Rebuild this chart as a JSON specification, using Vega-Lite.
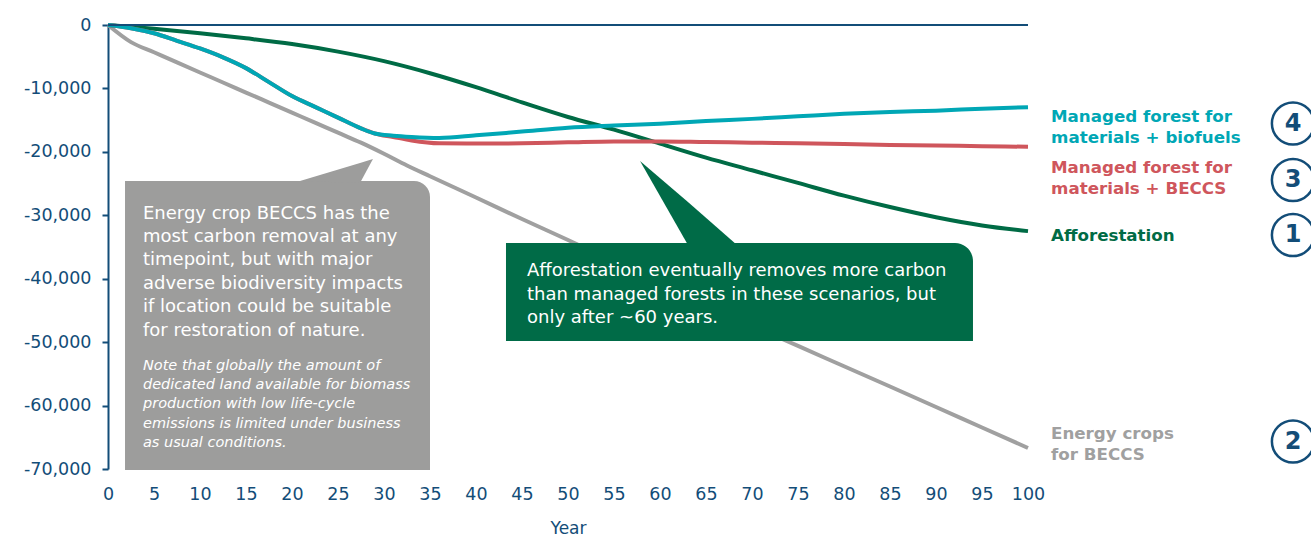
{
  "$schema": "https://vega.github.io/schema/vega-lite/v6.json",
  "width": 920,
  "height": 444,
  "autosize": {"type": "none"},
  "padding": {"left": 108, "top": 25, "right": 283, "bottom": 70},
  "background": "white",
  "config": {"font": "DejaVu Sans", "view": {"stroke": null}},
  "datasets": {
    "series": [
      {"series": "Energy crops for BECCS", "year": 0, "value": 0},
      {"series": "Energy crops for BECCS", "year": 2.5, "value": -2700},
      {"series": "Energy crops for BECCS", "year": 5, "value": -4300},
      {"series": "Energy crops for BECCS", "year": 7.5, "value": -5900},
      {"series": "Energy crops for BECCS", "year": 10, "value": -7490},
      {"series": "Energy crops for BECCS", "year": 12.5, "value": -9060},
      {"series": "Energy crops for BECCS", "year": 15, "value": -10650},
      {"series": "Energy crops for BECCS", "year": 17.5, "value": -12230},
      {"series": "Energy crops for BECCS", "year": 20, "value": -13810},
      {"series": "Energy crops for BECCS", "year": 22.5, "value": -15390},
      {"series": "Energy crops for BECCS", "year": 25, "value": -16980},
      {"series": "Energy crops for BECCS", "year": 27.5, "value": -18550},
      {"series": "Energy crops for BECCS", "year": 30, "value": -20300},
      {"series": "Energy crops for BECCS", "year": 32.5, "value": -22150},
      {"series": "Energy crops for BECCS", "year": 35, "value": -23850},
      {"series": "Energy crops for BECCS", "year": 40, "value": -27200},
      {"series": "Energy crops for BECCS", "year": 45, "value": -30590},
      {"series": "Energy crops for BECCS", "year": 50, "value": -33900},
      {"series": "Energy crops for BECCS", "year": 55, "value": -37290},
      {"series": "Energy crops for BECCS", "year": 60, "value": -40680},
      {"series": "Energy crops for BECCS", "year": 65, "value": -44070},
      {"series": "Energy crops for BECCS", "year": 70, "value": -47400},
      {"series": "Energy crops for BECCS", "year": 75, "value": -50600},
      {"series": "Energy crops for BECCS", "year": 80, "value": -53800},
      {"series": "Energy crops for BECCS", "year": 85, "value": -57000},
      {"series": "Energy crops for BECCS", "year": 90, "value": -60220},
      {"series": "Energy crops for BECCS", "year": 95, "value": -63460},
      {"series": "Energy crops for BECCS", "year": 100, "value": -66690},

      {"series": "Afforestation", "year": 0, "value": 0},
      {"series": "Afforestation", "year": 5, "value": -600},
      {"series": "Afforestation", "year": 10, "value": -1300},
      {"series": "Afforestation", "year": 15, "value": -2100},
      {"series": "Afforestation", "year": 20, "value": -3000},
      {"series": "Afforestation", "year": 25, "value": -4200},
      {"series": "Afforestation", "year": 30, "value": -5700},
      {"series": "Afforestation", "year": 35, "value": -7600},
      {"series": "Afforestation", "year": 40, "value": -9800},
      {"series": "Afforestation", "year": 45, "value": -12200},
      {"series": "Afforestation", "year": 50, "value": -14500},
      {"series": "Afforestation", "year": 55, "value": -16500},
      {"series": "Afforestation", "year": 60, "value": -18700},
      {"series": "Afforestation", "year": 65, "value": -20900},
      {"series": "Afforestation", "year": 70, "value": -22900},
      {"series": "Afforestation", "year": 75, "value": -24900},
      {"series": "Afforestation", "year": 80, "value": -26900},
      {"series": "Afforestation", "year": 85, "value": -28700},
      {"series": "Afforestation", "year": 90, "value": -30300},
      {"series": "Afforestation", "year": 95, "value": -31600},
      {"series": "Afforestation", "year": 100, "value": -32500},

      {"series": "Managed forest for materials + BECCS", "year": 0, "value": 0},
      {"series": "Managed forest for materials + BECCS", "year": 2.5, "value": -500},
      {"series": "Managed forest for materials + BECCS", "year": 5, "value": -1300},
      {"series": "Managed forest for materials + BECCS", "year": 7.5, "value": -2500},
      {"series": "Managed forest for materials + BECCS", "year": 10, "value": -3700},
      {"series": "Managed forest for materials + BECCS", "year": 12.5, "value": -5100},
      {"series": "Managed forest for materials + BECCS", "year": 15, "value": -6800},
      {"series": "Managed forest for materials + BECCS", "year": 17.5, "value": -9000},
      {"series": "Managed forest for materials + BECCS", "year": 20, "value": -11200},
      {"series": "Managed forest for materials + BECCS", "year": 22.5, "value": -12900},
      {"series": "Managed forest for materials + BECCS", "year": 25, "value": -14600},
      {"series": "Managed forest for materials + BECCS", "year": 27.5, "value": -16300},
      {"series": "Managed forest for materials + BECCS", "year": 29, "value": -17100},
      {"series": "Managed forest for materials + BECCS", "year": 31, "value": -17650},
      {"series": "Managed forest for materials + BECCS", "year": 33, "value": -18200},
      {"series": "Managed forest for materials + BECCS", "year": 36, "value": -18650},
      {"series": "Managed forest for materials + BECCS", "year": 40, "value": -18700},
      {"series": "Managed forest for materials + BECCS", "year": 45, "value": -18650},
      {"series": "Managed forest for materials + BECCS", "year": 50, "value": -18500},
      {"series": "Managed forest for materials + BECCS", "year": 55, "value": -18350},
      {"series": "Managed forest for materials + BECCS", "year": 60, "value": -18350},
      {"series": "Managed forest for materials + BECCS", "year": 65, "value": -18450},
      {"series": "Managed forest for materials + BECCS", "year": 70, "value": -18550},
      {"series": "Managed forest for materials + BECCS", "year": 75, "value": -18650},
      {"series": "Managed forest for materials + BECCS", "year": 80, "value": -18750},
      {"series": "Managed forest for materials + BECCS", "year": 85, "value": -18900},
      {"series": "Managed forest for materials + BECCS", "year": 90, "value": -19000},
      {"series": "Managed forest for materials + BECCS", "year": 95, "value": -19100},
      {"series": "Managed forest for materials + BECCS", "year": 100, "value": -19200},

      {"series": "Managed forest for materials + biofuels", "year": 0, "value": 0},
      {"series": "Managed forest for materials + biofuels", "year": 2.5, "value": -500},
      {"series": "Managed forest for materials + biofuels", "year": 5, "value": -1300},
      {"series": "Managed forest for materials + biofuels", "year": 7.5, "value": -2500},
      {"series": "Managed forest for materials + biofuels", "year": 10, "value": -3700},
      {"series": "Managed forest for materials + biofuels", "year": 12.5, "value": -5100},
      {"series": "Managed forest for materials + biofuels", "year": 15, "value": -6800},
      {"series": "Managed forest for materials + biofuels", "year": 17.5, "value": -9000},
      {"series": "Managed forest for materials + biofuels", "year": 20, "value": -11200},
      {"series": "Managed forest for materials + biofuels", "year": 22.5, "value": -12900},
      {"series": "Managed forest for materials + biofuels", "year": 25, "value": -14600},
      {"series": "Managed forest for materials + biofuels", "year": 27.5, "value": -16300},
      {"series": "Managed forest for materials + biofuels", "year": 29, "value": -17100},
      {"series": "Managed forest for materials + biofuels", "year": 31, "value": -17450},
      {"series": "Managed forest for materials + biofuels", "year": 33, "value": -17650},
      {"series": "Managed forest for materials + biofuels", "year": 36, "value": -17800},
      {"series": "Managed forest for materials + biofuels", "year": 40, "value": -17400},
      {"series": "Managed forest for materials + biofuels", "year": 45, "value": -16800},
      {"series": "Managed forest for materials + biofuels", "year": 50, "value": -16200},
      {"series": "Managed forest for materials + biofuels", "year": 55, "value": -15850},
      {"series": "Managed forest for materials + biofuels", "year": 60, "value": -15550},
      {"series": "Managed forest for materials + biofuels", "year": 65, "value": -15150},
      {"series": "Managed forest for materials + biofuels", "year": 70, "value": -14800},
      {"series": "Managed forest for materials + biofuels", "year": 75, "value": -14400},
      {"series": "Managed forest for materials + biofuels", "year": 80, "value": -14000},
      {"series": "Managed forest for materials + biofuels", "year": 85, "value": -13700},
      {"series": "Managed forest for materials + biofuels", "year": 90, "value": -13500},
      {"series": "Managed forest for materials + biofuels", "year": 95, "value": -13200},
      {"series": "Managed forest for materials + biofuels", "year": 100, "value": -12950}
    ],
    "boxes": [
      {"box": "gray", "x1": 1.85, "x2": 35.0, "y1": -24595, "y2": -70158},
      {"box": "green", "x1": 43.26, "x2": 94.02, "y1": -34370, "y2": -49820}
    ],
    "pointers": [
      {"box": "gray", "year": 20.87, "top": -24595, "bottom": -24595},
      {"box": "gray", "year": 27.39, "top": -21742, "bottom": -24910},
      {"box": "gray", "year": 28.8, "top": -21126, "bottom": -21126},
      {"box": "green", "year": 57.83, "top": -21442, "bottom": -21442},
      {"box": "green", "year": 63.04, "top": -27922, "bottom": -34686},
      {"box": "green", "year": 68.37, "top": -34686, "bottom": -34686}
    ],
    "notes": [
      {"note": "main", "year": 3.8, "value": -28300, "text": "Energy crop BECCS has the\nmost carbon removal at any\ntimepoint, but with major\nadverse biodiversity impacts\nif location could be suitable\nfor restoration of nature."},
      {"note": "small", "year": 3.8, "value": -52630, "text": "Note that globally the amount of\ndedicated land available for biomass\nproduction with low life-cycle\nemissions is limited under business\nas usual conditions."},
      {"note": "green", "year": 45.54, "value": -37440, "text": "Afforestation eventually removes more carbon\nthan managed forests in these scenarios, but\nonly after ~60 years."}
    ],
    "labels": [
      {"series": "Managed forest for materials + biofuels", "year": 100, "value": -13165, "text": "Managed forest for\nmaterials + biofuels"},
      {"series": "Managed forest for materials + BECCS", "year": 100, "value": -21253, "text": "Managed forest for\nmaterials + BECCS"},
      {"series": "Afforestation", "year": 100, "value": -31926, "text": "Afforestation"},
      {"series": "Energy crops for BECCS", "year": 100, "value": -63143, "text": "Energy crops\nfor BECCS"}
    ],
    "circles": [
      {"num": "4", "year": 100, "value": -15530},
      {"num": "3", "year": 100, "value": -24437},
      {"num": "1", "year": 100, "value": -33109},
      {"num": "2", "year": 100, "value": -65665}
    ]
  },
  "layer": [
    {
      "data": {"name": "series"},
      "mark": {"type": "line", "strokeWidth": 4, "clip": false, "interpolate": "monotone"},
      "encoding": {
        "x": {
          "field": "year", "type": "quantitative",
          "scale": {"domain": [0, 100], "nice": false},
          "axis": {
            "values": [0,5,10,15,20,25,30,35,40,45,50,55,60,65,70,75,80,85,90,95,100],
            "domain": false, "ticks": false, "grid": false,
            "labelFontSize": 17.5, "labelColor": "#134d78", "labelPadding": 16,
            "labelFlush": false,
            "title": "Year", "titleFontSize": 17, "titleFontWeight": "normal",
            "titleColor": "#134d78", "titlePadding": 18
          }
        },
        "y": {
          "field": "value", "type": "quantitative",
          "scale": {"domain": [-70000, 0], "nice": false},
          "axis": {
            "values": [-70000,-60000,-50000,-40000,-30000,-20000,-10000,0],
            "labelExpr": "datum.value === 0 ? '0' : '-' + format(-datum.value, ',')",
            "grid": false, "title": null,
            "domainColor": "#134d78", "domainWidth": 2,
            "tickColor": "#134d78", "tickWidth": 2, "tickSize": 6,
            "labelFontSize": 17.5, "labelColor": "#134d78", "labelPadding": 11
          }
        },
        "color": {
          "field": "series", "type": "nominal", "legend": null,
          "scale": {
            "domain": ["Energy crops for BECCS", "Afforestation", "Managed forest for materials + BECCS", "Managed forest for materials + biofuels"],
            "range": ["#a0a0a0", "#006b45", "#cf565c", "#00a7b5"]
          }
        }
      }
    },
    {
      "data": {"values": [{"year": 0, "y": 0, "end": 100}]},
      "mark": {"type": "rule", "color": "#134d78", "strokeWidth": 2},
      "encoding": {
        "x": {"field": "year", "type": "quantitative"},
        "x2": {"field": "end"},
        "y": {"field": "y", "type": "quantitative"}
      }
    },
    {
      "data": {"name": "boxes"},
      "transform": [{"filter": "datum.box === 'gray'"}],
      "mark": {"type": "rect", "color": "#9d9d9c", "cornerRadiusTopRight": 16, "clip": false},
      "encoding": {
        "x": {"field": "x1", "type": "quantitative"},
        "x2": {"field": "x2"},
        "y": {"field": "y1", "type": "quantitative"},
        "y2": {"field": "y2"}
      }
    },
    {
      "data": {"name": "pointers"},
      "transform": [{"filter": "datum.box === 'gray'"}],
      "mark": {"type": "area", "color": "#9d9d9c"},
      "encoding": {
        "x": {"field": "year", "type": "quantitative"},
        "y": {"field": "top", "type": "quantitative"},
        "y2": {"field": "bottom"}
      }
    },
    {
      "data": {"name": "boxes"},
      "transform": [{"filter": "datum.box === 'green'"}],
      "mark": {"type": "rect", "color": "#006b47", "cornerRadiusTopRight": 18},
      "encoding": {
        "x": {"field": "x1", "type": "quantitative"},
        "x2": {"field": "x2"},
        "y": {"field": "y1", "type": "quantitative"},
        "y2": {"field": "y2"}
      }
    },
    {
      "data": {"name": "pointers"},
      "transform": [{"filter": "datum.box === 'green'"}],
      "mark": {"type": "area", "color": "#006b47"},
      "encoding": {
        "x": {"field": "year", "type": "quantitative"},
        "y": {"field": "top", "type": "quantitative"},
        "y2": {"field": "bottom"}
      }
    },
    {
      "data": {"name": "notes"},
      "transform": [{"filter": "datum.note !== 'small'"}],
      "mark": {"type": "text", "align": "left", "baseline": "top", "fontSize": 18, "lineHeight": 23.4, "lineBreak": "\n", "color": "white"},
      "encoding": {
        "x": {"field": "year", "type": "quantitative"},
        "y": {"field": "value", "type": "quantitative"},
        "text": {"field": "text"}
      }
    },
    {
      "data": {"name": "notes"},
      "transform": [{"filter": "datum.note === 'small'"}],
      "mark": {"type": "text", "align": "left", "baseline": "top", "fontSize": 14.5, "fontStyle": "italic", "lineHeight": 19.3, "lineBreak": "\n", "color": "white"},
      "encoding": {
        "x": {"field": "year", "type": "quantitative"},
        "y": {"field": "value", "type": "quantitative"},
        "text": {"field": "text"}
      }
    },
    {
      "data": {"name": "labels"},
      "mark": {"type": "text", "align": "left", "baseline": "top", "dx": 23, "fontSize": 16.7, "fontWeight": "bold", "lineHeight": 21.3, "lineBreak": "\n"},
      "encoding": {
        "x": {"field": "year", "type": "quantitative"},
        "y": {"field": "value", "type": "quantitative"},
        "text": {"field": "text"},
        "color": {"field": "series", "type": "nominal", "legend": null}
      }
    },
    {
      "data": {"name": "circles"},
      "mark": {"type": "point", "shape": "circle", "filled": false, "size": 1780, "stroke": "#134d78", "strokeWidth": 2.5, "opacity": 1, "xOffset": 265},
      "encoding": {
        "x": {"field": "year", "type": "quantitative"},
        "y": {"field": "value", "type": "quantitative"}
      }
    },
    {
      "data": {"name": "circles"},
      "mark": {"type": "text", "align": "center", "baseline": "middle", "dx": 265, "fontSize": 24, "fontWeight": "bold", "color": "#134d78"},
      "encoding": {
        "x": {"field": "year", "type": "quantitative"},
        "y": {"field": "value", "type": "quantitative"},
        "text": {"field": "num"}
      }
    }
  ]
}
